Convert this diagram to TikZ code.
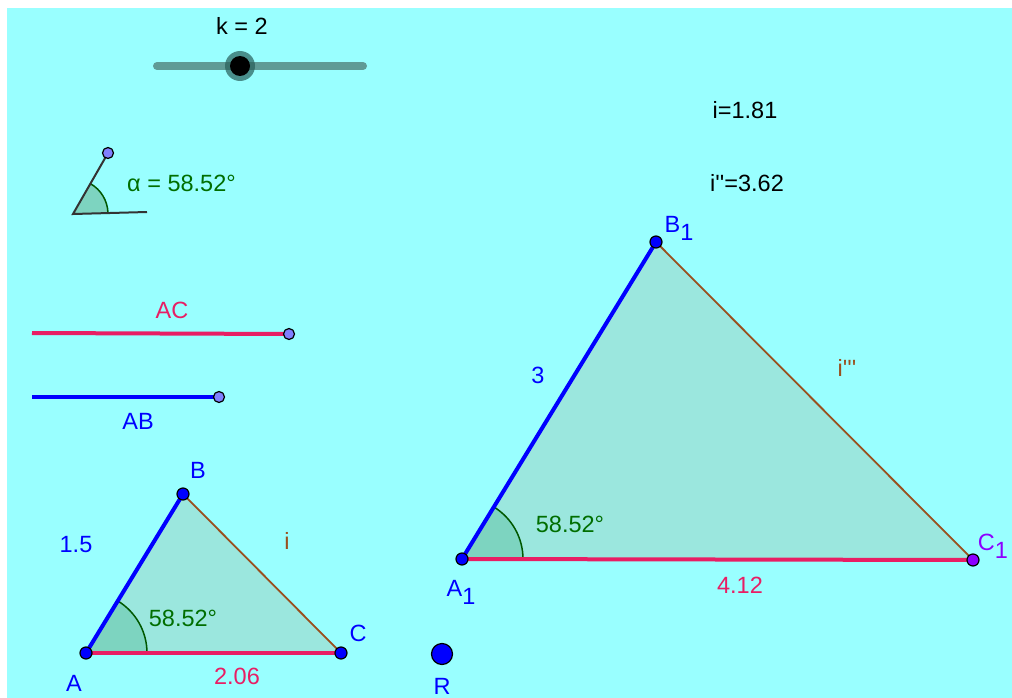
\documentclass[tikz,border=0pt]{standalone}
\usepackage{fontspec}
\setmainfont{Liberation Sans}
\usetikzlibrary{calc}
\definecolor{bg}{RGB}{153,255,255}
\definecolor{trifill}{RGB}{155,231,222}
\definecolor{sectorfill}{RGB}{125,212,192}
\definecolor{ggreen}{RGB}{0,110,0}
\definecolor{gblue}{RGB}{0,0,255}
\definecolor{gpink}{RGB}{232,30,100}
\definecolor{gbrown}{RGB}{153,80,30}
\definecolor{glav}{RGB}{128,128,255}
\definecolor{gpurple}{RGB}{140,0,255}
\definecolor{slidercol}{RGB}{95,155,150}
\definecolor{halo}{RGB}{40,95,90}
\begin{document}
\begin{tikzpicture}[x=1pt,y=-1pt,
  lbl/.style={font=\fontsize{23.5}{27}\selectfont, inner sep=0pt},
  pt/.style={circle, fill=#1, draw=black, line width=1.2pt, inner sep=0pt, minimum size=12pt},
  bluethick/.style={draw=gblue, line width=4pt},
  pinkthick/.style={draw=gpink, line width=4pt},
  brownthin/.style={draw=gbrown, line width=1.8pt},
  arcline/.style={draw=ggreen!80!black, line width=1.5pt},
]
\useasboundingbox (0,0) rectangle (1012,698);
\fill[white] (0,0) rectangle (1012,698);
\fill[bg] (7,8) rectangle (1012,698);

% slider
\coordinate (s1) at (157,66);
\coordinate (s2) at (363,66);
\coordinate (knob) at (240,66);
\draw[slidercol, line width=8pt, line cap=round] (s1) -- (s2);
\fill[halo, opacity=0.7] (knob) circle (15);
\fill[black] (knob) circle (10);
\node[lbl] (klabel) at (242,26) {k = 2};

% angle icon
\coordinate (V) at (73,214);
\coordinate (P) at (108,153);
\coordinate (Q) at (147,212);
\fill[sectorfill] (V) -- ($(V)+(-1.55:35)$) arc[start angle=-1.55, end angle=-60.07, radius=35] -- cycle;
\draw[arcline] ($(V)+(-1.55:35)$) arc[start angle=-1.55, end angle=-60.07, radius=35];
\draw[black!80, line width=2pt] (P) -- (V) -- (Q);
\node[pt=glav, minimum size=11pt] (Pdot) at (P) {};
\node[lbl, text=ggreen, anchor=west] (alpha) at (127,183) {α = 58.52°};

% segments AC, AB
\coordinate (ac1) at (32,333);
\coordinate (ac2) at (289,334);
\draw[pinkthick] (ac1) -- (ac2);
\node[pt=glav, minimum size=11pt] (ac2dot) at (ac2) {};
\node[lbl, text=gpink] (AClbl) at (172,310) {AC};
\coordinate (ab1) at (32,397);
\coordinate (ab2) at (219,397);
\draw[bluethick] (ab1) -- (ab2);
\node[pt=glav, minimum size=11pt] (ab2dot) at (ab2) {};
\node[lbl, text=gblue] (ABlbl) at (138,421) {AB};

% small triangle
\coordinate (A) at (86,653);
\coordinate (B) at (183,494);
\coordinate (C) at (341,653);
\fill[trifill] (A) -- (B) -- (C) -- cycle;
\fill[sectorfill] (A) -- ($(A)+(61,0)$) arc[start angle=0, end angle=-58.52, radius=61] -- cycle;
\draw[arcline] ($(A)+(61,0)$) arc[start angle=0, end angle=-58.52, radius=61];
\draw[brownthin] (B) -- (C);
\draw[pinkthick] (A) -- (C);
\draw[bluethick] (A) -- (B);
\node[pt=gblue] (Adot) at (A) {};
\node[pt=gblue] (Bdot) at (B) {};
\node[pt=gblue] (Cdot) at (C) {};
\node[lbl, text=gblue] (Alb) at (74,683) {A};
\node[lbl, text=gblue] (Blb) at (198,470) {B};
\node[lbl, text=gblue] (Clb) at (358,633) {C};
\node[lbl, text=gblue] (ABlen) at (76,545) {1.5};
\node[lbl, text=gbrown] (ilb) at (287,541) {i};
\node[lbl, text=ggreen] (ang1) at (183,618) {58.52°};
\node[lbl, text=gpink] (AClen) at (237,676) {2.06};

% point R
\coordinate (R) at (442,654);
\node[pt=gblue, minimum size=21pt] (Rdot) at (R) {};
\node[lbl, text=gblue] (Rlb) at (442,686) {R};

% big triangle
\coordinate (A1) at (462,559);
\coordinate (B1) at (656,242);
\coordinate (C1) at (973,560);
\fill[trifill] (A1) -- (B1) -- (C1) -- cycle;
\fill[sectorfill] (A1) -- ($(A1)+(61,0)$) arc[start angle=0, end angle=-58.52, radius=61] -- cycle;
\draw[arcline] ($(A1)+(61,0)$) arc[start angle=0, end angle=-58.52, radius=61];
\draw[brownthin] (B1) -- (C1);
\draw[pinkthick] (A1) -- (C1);
\draw[bluethick] (A1) -- (B1);
\node[pt=gblue] (A1dot) at (A1) {};
\node[pt=gblue] (B1dot) at (B1) {};
\node[pt=gpurple] (C1dot) at (C1) {};
\node[lbl, text=gblue] (A1lb) at (461,592) {A\raisebox{-8pt}{1}};
\node[lbl, text=gblue] (B1lb) at (679,228) {B\raisebox{-8pt}{1}};
\node[lbl, text=gpurple] (C1lb) at (993,546) {C\raisebox{-8pt}{1}};
\node[lbl, text=gblue] (A1B1len) at (538,375) {3};
\node[lbl, text=gbrown] (ilb3) at (847,368) {i\textquotesingle\textquotesingle\textquotesingle};
\node[lbl, text=ggreen] (ang2) at (570,524) {58.52°};
\node[lbl, text=gpink] (A1C1len) at (740,585) {4.12};

% values
\node[lbl] (ival) at (745,110) {i=1.81};
\node[lbl] (i2val) at (747,183) {i\textquotesingle\textquotesingle=3.62};
\end{tikzpicture}
\end{document}
